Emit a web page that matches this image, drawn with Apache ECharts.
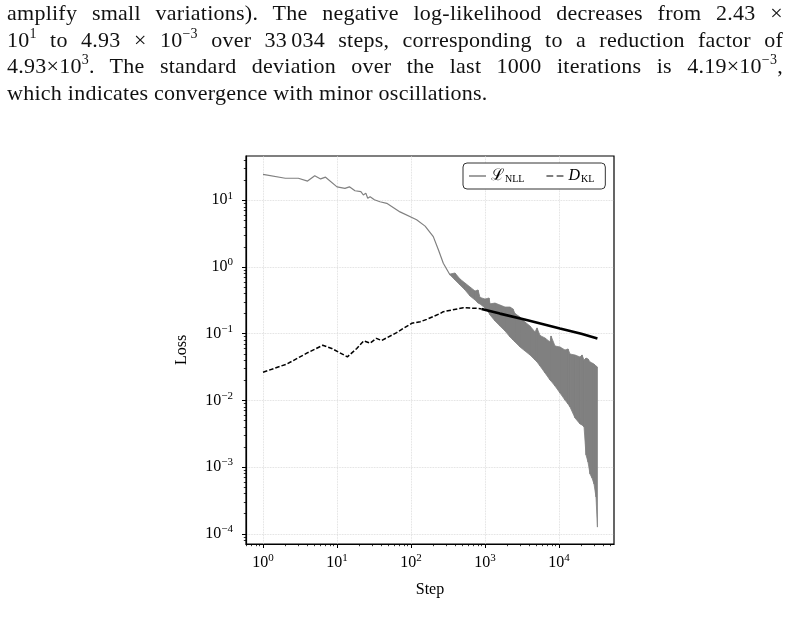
<!DOCTYPE html>
<html>
<head>
<meta charset="utf-8">
<title>Loss curves</title>
<script src="https://cdn.jsdelivr.net/npm/echarts@6/dist/echarts.min.js"></script>
<style>
  body { margin: 0; background: #fff; }
  #main { position: absolute; left: 0; top: 0; width: 790px; height: 632px; }
  .line { position: absolute; left: 7px; width: 776px; font-family: 'Liberation Serif', serif;
          font-size: 22px; line-height: 26.5px; letter-spacing: 0.25px; color: #111;
          text-align: justify; text-align-last: justify; }
  .line.last { text-align-last: left; }
  sup { font-size: 14px; line-height: 0; vertical-align: 9px; }
  .th { display: inline-block; width: 4px; }
</style>
</head>
<body>
<div id="main"></div>
<div class="line" style="top:0px">amplify small variations). The negative log-likelihood decreases from 2.43 ×</div>
<div class="line" style="top:26.5px">10<sup>1</sup> to 4.93 × 10<sup>−3</sup> over 33<span class="th"></span>034 steps, corresponding to a reduction factor of</div>
<div class="line" style="top:53px">4.93×10<sup>3</sup>. The standard deviation over the last 1000 iterations is 4.19×10<sup>−3</sup>,</div>
<div class="line last" style="top:79.5px">which indicates convergence with minor oscillations.</div>
<script>
// NLL, smooth part (step, loss)
var nllSteps = [1, 2, 3, 4, 5, 6, 7, 10, 12.8, 14.7, 17.5, 21, 22.7, 24.5, 26, 28, 32, 38, 47, 71, 119, 155, 200, 235, 273, 337];
var nllLoss  = [24.5, 21.4, 21.4, 19.4, 23.4, 20.9, 22.2, 15.9, 15.1, 15.9, 13.9, 13.5, 12.0, 12.8, 10.7, 11.3, 10.2, 9.5, 9.0, 6.7, 5.1, 4.1, 2.85, 1.8, 1.14, 0.76];

// NLL, oscillating part: lower and upper envelope of the band
var bandSteps = [337, 393, 459, 537, 627, 733, 804, 856, 1000, 1132, 1169, 1365, 1595, 1863, 2177, 2389, 2543, 2971, 3472, 4056, 4739, 5043, 5537, 6470, 7558, 7798, 8831, 10320, 12050, 13240, 14090, 16460, 19230, 20460, 21780, 23170, 24660, 26240, 27920, 29710, 31620, 33034];
var bandLow  = [0.759, 0.638, 0.537, 0.452, 0.367, 0.320, 0.288, 0.279, 0.243, 0.204, 0.191, 0.155, 0.130, 0.110, 0.0893, 0.0805, 0.0751, 0.0632, 0.0550, 0.0479, 0.0403, 0.0377, 0.0328, 0.0258, 0.0202, 0.0195, 0.0164, 0.0129, 0.0101, 0.00883, 0.00796, 0.00545, 0.00443, 0.00428, 0.00399, 0.00152, 0.00119, 0.000788, 0.000687, 0.000558, 0.000356, 0.000126];
var bandHigh = [0.785, 0.813, 0.661, 0.575, 0.501, 0.437, 0.452, 0.35, 0.331, 0.343, 0.28, 0.288, 0.269, 0.251, 0.251, 0.235, 0.20, 0.178, 0.150, 0.130, 0.106, 0.122, 0.094, 0.0862, 0.0751, 0.0924, 0.0654, 0.0632, 0.0570, 0.059, 0.0496, 0.0479, 0.0447, 0.048, 0.0403, 0.0432, 0.0418, 0.0377, 0.0364, 0.0351, 0.0328, 0.0317];

// KL divergence
var klSteps = [1, 2.09, 3.9, 6.4, 8.5, 13.8, 18.5, 23, 28, 34, 40, 55, 64, 102, 133, 163, 246, 273, 509, 772, 900];
var klLoss  = [0.0264, 0.035, 0.051, 0.067, 0.060, 0.045, 0.060, 0.078, 0.072, 0.085, 0.079, 0.095, 0.104, 0.143, 0.151, 0.164, 0.20, 0.214, 0.245, 0.24, 0.235];
var klTailSteps = [900, 1590, 3650, 10300, 20000, 33034];
var klTailLoss  = [0.235, 0.20, 0.16, 0.12, 0.10, 0.085];

// tick exponents
var xMajor = [0, 1, 2, 3, 4];
var yMajor = [-4, -3, -2, -1, 0, 1];

var lg = Math.log10;
var X_MIN = -0.23, X_MAX = 4.743, Y_MIN = -4.153, Y_MAX = 1.664;
var FONT = "'Liberation Serif', 'DejaVu Serif', serif";

function pairs(xs, ys) {
    return xs.map(function (x, i) { return [lg(x), lg(ys[i])]; });
}
function minors(lo, hi, fromExp, toExp) {
    var out = [];
    for (var e = fromExp; e <= toExp; e++) {
        for (var k = 2; k <= 9; k++) {
            var v = lg(k) + e;
            if (v > lo && v < hi) out.push(v);
        }
    }
    return out;
}
function powLabel(v) {
    var e = Math.round(v);
    return '{b|10}{s|' + (e < 0 ? '\u2212' + (-e) : e) + '}';
}
var labelRich = {
    b: { fontFamily: FONT, fontSize: 16, color: '#000', lineHeight: 18 },
    s: { fontFamily: FONT, fontSize: 11, color: '#000', lineHeight: 11, padding: [0, 0, 9, 0] }
};

// one quad per pair of neighbouring band samples
var bandSegs = bandSteps.slice(0, -1).map(function (s, i) {
    return [lg(s), lg(bandLow[i]), lg(bandHigh[i]), lg(bandSteps[i + 1]), lg(bandLow[i + 1]), lg(bandHigh[i + 1])];
});

var myChart = echarts.init(document.getElementById('main'));
var option = {
    animation: false,
    grid: [
        { left: 246, right: 176, top: 156, bottom: 88, show: true, borderColor: '#000', borderWidth: 1.2 },
        { left: 246, right: 176, top: 156, bottom: 88, show: false }
    ],
    legend: {
        data: [
            { name: 'NLL', icon: 'rect' },
            { name: 'KL', icon: 'path://M0,0h6v1h-6zM9,0h6v1h-6z' }
        ],
        left: 463, top: 163,
        itemWidth: 17, itemHeight: 1.5, itemGap: 22,
        padding: [5, 11, 5, 6],
        borderColor: '#333', borderWidth: 1, borderRadius: 4, backgroundColor: '#fff',
        formatter: function (n) { return n === 'NLL' ? '{m|\u2112}{sub|NLL}' : '{d|D}{sub|KL}'; },
        textStyle: {
            rich: {
                m: { fontFamily: FONT, fontSize: 16, color: '#000' },
                d: { fontFamily: FONT, fontSize: 16, fontStyle: 'italic', color: '#000' },
                sub: { fontFamily: FONT, fontSize: 10, color: '#000', padding: [6, 0, 0, 1] }
            }
        }
    },
    xAxis: [
        {
            type: 'value', gridIndex: 0, min: X_MIN, max: X_MAX,
            name: 'Step', nameLocation: 'middle', nameGap: 38,
            nameTextStyle: { fontFamily: FONT, fontSize: 16, color: '#000' },
            axisLine: { onZero: false, lineStyle: { color: '#000', width: 1.2 } },
            axisTick: { customValues: xMajor, length: 4, lineStyle: { color: '#000', width: 1 } },
            axisLabel: { customValues: xMajor, margin: 10, formatter: powLabel, rich: labelRich },
            splitLine: { show: true, lineStyle: { color: '#d6d6d6', type: 'dotted', width: 0.8 } }
        },
        {
            type: 'value', gridIndex: 1, min: X_MIN, max: X_MAX, position: 'bottom',
            axisLine: { show: false, onZero: false },
            axisTick: { customValues: minors(X_MIN, X_MAX, -1, 4), length: 2.2, lineStyle: { color: '#000', width: 0.8 } },
            axisLabel: { show: false },
            splitLine: { show: false }
        }
    ],
    yAxis: [
        {
            type: 'value', gridIndex: 0, min: Y_MIN, max: Y_MAX,
            name: 'Loss', nameLocation: 'middle', nameGap: 56,
            nameTextStyle: { fontFamily: FONT, fontSize: 16, color: '#000' },
            axisLine: { onZero: false, lineStyle: { color: '#000', width: 1.2 } },
            axisTick: { customValues: yMajor, length: 4, lineStyle: { color: '#000', width: 1 } },
            axisLabel: { customValues: yMajor, margin: 13, formatter: powLabel, rich: labelRich },
            splitLine: { show: true, lineStyle: { color: '#d6d6d6', type: 'dotted', width: 0.8 } }
        },
        {
            type: 'value', gridIndex: 1, min: Y_MIN, max: Y_MAX, position: 'left',
            axisLine: { show: false, onZero: false },
            axisTick: { customValues: minors(Y_MIN, Y_MAX, -5, 1), length: 2.2, lineStyle: { color: '#000', width: 0.8 } },
            axisLabel: { show: false },
            splitLine: { show: false }
        }
    ],
    series: [
        {
            name: 'NLL', type: 'line', xAxisIndex: 0, yAxisIndex: 0,
            data: pairs(nllSteps, nllLoss), showSymbol: false, symbol: 'none',
            lineStyle: { color: '#808080', width: 1.2 }, itemStyle: { color: '#808080' }
        },
        {
            name: 'NLL band', type: 'custom', xAxisIndex: 0, yAxisIndex: 0,
            data: bandSegs, clip: true,
            encode: { x: [0, 3], y: [1, 2, 4, 5] },
            renderItem: function (params, api) {
                var a = api.coord([api.value(0), api.value(2)]);
                var b = api.coord([api.value(3), api.value(5)]);
                var c = api.coord([api.value(3), api.value(4)]);
                var d = api.coord([api.value(0), api.value(1)]);
                return {
                    type: 'polygon',
                    shape: { points: [a, b, c, d] },
                    style: { fill: '#808080', stroke: '#808080', lineWidth: 0.8 }
                };
            }
        },
        {
            name: 'KL', type: 'line',
            data: pairs(klSteps, klLoss), showSymbol: false, symbol: 'none',
            lineStyle: { color: '#000', width: 1.5, type: [4.5, 2] }, itemStyle: { color: '#000' }
        },
        {
            name: 'KL tail', type: 'line',
            data: pairs(klTailSteps, klTailLoss), symbol: 'none',
            lineStyle: { color: '#000', width: 2.6 }
        }
    ]
};
myChart.setOption(option);
</script>
</body>
</html>
